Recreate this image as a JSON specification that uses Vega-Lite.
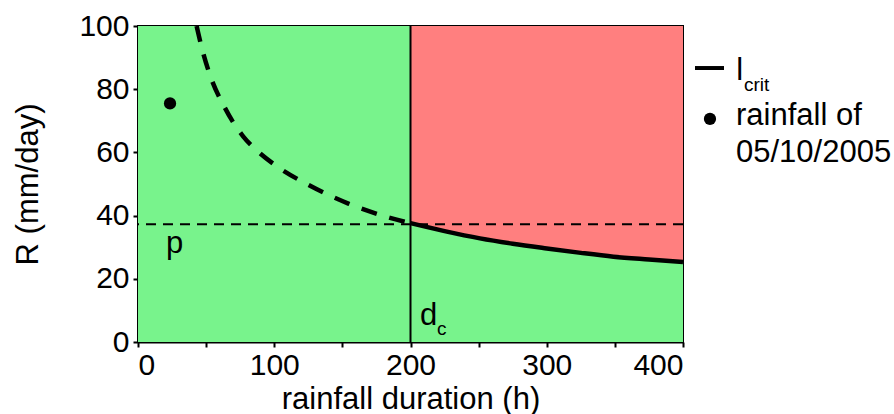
{
  "$schema": "https://vega.github.io/schema/vega-lite/v6.json",
  "width": 545,
  "height": 316,
  "autosize": "none",
  "padding": {"left": 138, "top": 26, "right": 211, "bottom": 72},
  "background": "white",
  "config": {
    "view": {"stroke": "black", "strokeWidth": 2},
    "font": "Liberation Sans",
    "axis": {
      "domainColor": "black",
      "domainWidth": 2,
      "tickColor": "black",
      "tickWidth": 2,
      "tickSize": 5,
      "grid": false,
      "labelFont": "Liberation Sans",
      "labelFontSize": 30,
      "labelColor": "black",
      "titleFont": "Liberation Sans",
      "titleFontSize": 31,
      "titleFontWeight": "normal",
      "titleColor": "black",
      "labelOverlap": false
    }
  },
  "datasets": {
    "crit": [
      {"d": 200, "R": 37.6},
      {"d": 225, "R": 35.1},
      {"d": 251, "R": 32.8},
      {"d": 275, "R": 31.1},
      {"d": 300, "R": 29.6},
      {"d": 325, "R": 28.2},
      {"d": 349, "R": 27.0},
      {"d": 375, "R": 26.1},
      {"d": 400, "R": 25.3}
    ],
    "dashcurve": [
      {"d": 43, "R": 100},
      {"d": 47.5, "R": 92},
      {"d": 52.8, "R": 84.5},
      {"d": 63.9, "R": 74},
      {"d": 77.3, "R": 65},
      {"d": 88, "R": 60.3},
      {"d": 100.6, "R": 56},
      {"d": 126, "R": 49.5},
      {"d": 154.4, "R": 43.8},
      {"d": 185, "R": 39.3},
      {"d": 200, "R": 37.6}
    ]
  },
  "layer": [
    {
      "data": {"values": [{"d": 0, "d2": 400, "R": 0, "R2": 100}]},
      "mark": {"type": "rect", "color": "#78F38C"},
      "encoding": {
        "x": {
          "field": "d", "type": "quantitative",
          "scale": {"domain": [0, 400], "nice": false},
          "axis": {
            "title": "rainfall duration (h)",
            "values": [0, 50, 100, 150, 200, 250, 300, 350, 400],
            "labelExpr": "datum.value % 100 == 0 ? datum.label : ''",
            "labelPadding": 3,
            "titlePadding": 4
          }
        },
        "x2": {"field": "d2"},
        "y": {
          "field": "R", "type": "quantitative",
          "scale": {"domain": [0, 100], "nice": false},
          "axis": {
            "title": "R (mm/day)",
            "values": [0, 10, 20, 30, 40, 50, 60, 70, 80, 90, 100],
            "labelExpr": "datum.value % 20 == 0 ? datum.label : ''",
            "labelPadding": 4,
            "titlePadding": 34
          }
        },
        "y2": {"field": "R2"}
      }
    },
    {
      "data": {"name": "crit"},
      "mark": {"type": "area", "color": "#FF7F7F", "interpolate": "monotone"},
      "encoding": {
        "x": {"field": "d", "type": "quantitative"},
        "y": {"field": "R", "type": "quantitative"},
        "y2": {"datum": 100}
      }
    },
    {
      "data": {"values": [{"R": 37.3}]},
      "mark": {"type": "rule", "color": "black", "strokeWidth": 2, "strokeDash": [10, 7]},
      "encoding": {"y": {"field": "R", "type": "quantitative"}}
    },
    {
      "data": {"values": [{"d": 200}]},
      "mark": {"type": "rule", "color": "black", "strokeWidth": 2},
      "encoding": {"x": {"field": "d", "type": "quantitative"}}
    },
    {
      "data": {"name": "dashcurve"},
      "mark": {"type": "line", "color": "black", "strokeWidth": 4.5, "strokeDash": [16, 13], "interpolate": "monotone"},
      "encoding": {
        "x": {"field": "d", "type": "quantitative"},
        "y": {"field": "R", "type": "quantitative"}
      }
    },
    {
      "data": {"name": "crit"},
      "mark": {"type": "line", "color": "black", "strokeWidth": 4.5, "interpolate": "monotone"},
      "encoding": {
        "x": {"field": "d", "type": "quantitative"},
        "y": {"field": "R", "type": "quantitative"}
      }
    },
    {
      "data": {"values": [{"d": 23.5, "R": 75.5}, {"d": 419.8, "R": 70.6}]},
      "mark": {"type": "point", "filled": true, "color": "black", "opacity": 1, "size": 150, "clip": false},
      "encoding": {
        "x": {"field": "d", "type": "quantitative"},
        "y": {"field": "R", "type": "quantitative"}
      }
    },
    {
      "data": {"values": [{"d": 408.8, "d2": 430.1, "R": 86.7}]},
      "mark": {"type": "rule", "color": "black", "strokeWidth": 4, "clip": false},
      "encoding": {
        "x": {"field": "d", "type": "quantitative"},
        "x2": {"field": "d2"},
        "y": {"field": "R", "type": "quantitative"}
      }
    },
    {
      "data": {"values": [
        {"d": 20.5, "R": 28.2, "label": "p"},
        {"d": 207, "R": 5.4, "label": "d"},
        {"d": 439, "R": 82.9, "label": "l"},
        {"d": 438.9, "R": 68.7, "label": "rainfall of"},
        {"d": 438.9, "R": 57.0, "label": "05/10/2005"}
      ]},
      "mark": {"type": "text", "align": "left", "baseline": "alphabetic", "fontSize": 31, "color": "black", "font": "Liberation Sans", "clip": false},
      "encoding": {
        "x": {"field": "d", "type": "quantitative"},
        "y": {"field": "R", "type": "quantitative"},
        "text": {"field": "label"}
      }
    },
    {
      "data": {"values": [
        {"d": 219.4, "R": 2.2, "label": "c"},
        {"d": 444.8, "R": 79.4, "label": "crit"}
      ]},
      "mark": {"type": "text", "align": "left", "baseline": "alphabetic", "fontSize": 19, "color": "black", "font": "Liberation Sans", "clip": false},
      "encoding": {
        "x": {"field": "d", "type": "quantitative"},
        "y": {"field": "R", "type": "quantitative"},
        "text": {"field": "label"}
      }
    }
  ]
}
